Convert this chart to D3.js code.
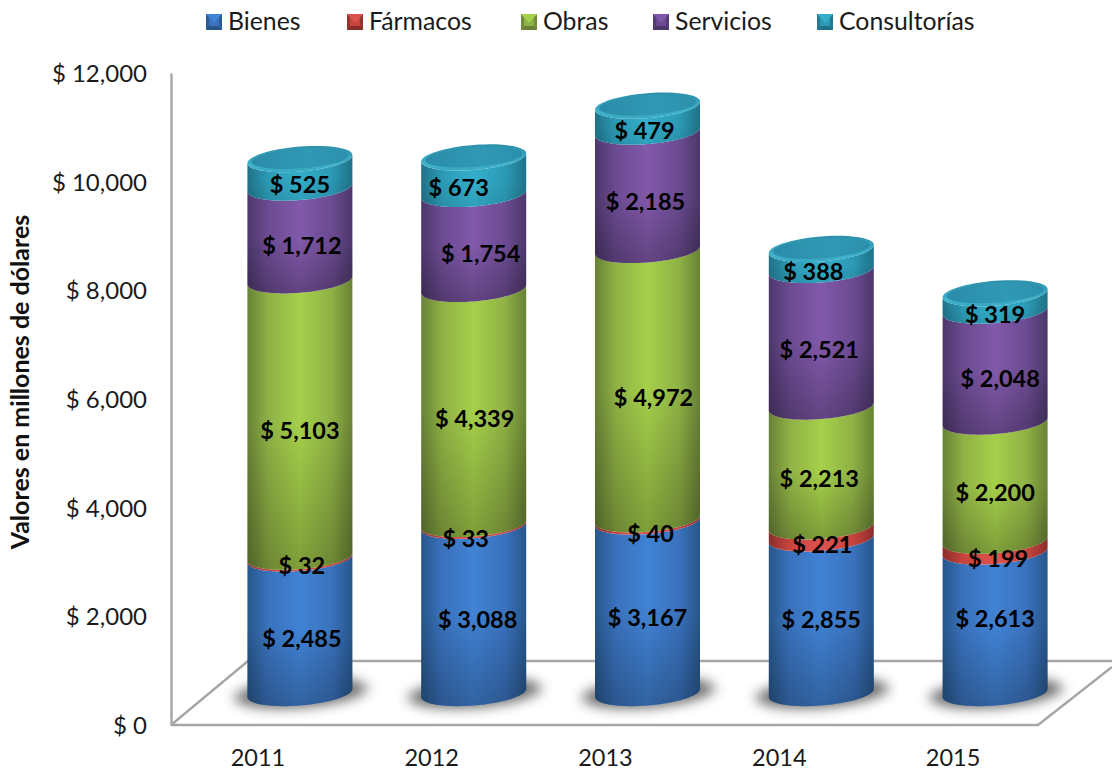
<!DOCTYPE html>
<html><head><meta charset="utf-8">
<script src="https://d3js.org/d3.v7.min.js"></script>
<style>html,body{margin:0;padding:0;background:#fff}svg{display:block}text{font-family:Lato,"Open Sans",sans-serif}</style>
</head><body><svg id="c" width="1112" height="773"></svg>
<script>
const years=["2011","2012","2013","2014","2015"];
const seriesNames=["Bienes","Fármacos","Obras","Servicios","Consultorías"];
const bienes=[2485,3088,3167,2855,2613];
const farmacos=[32,33,40,221,199];
const obras=[5103,4339,4972,2213,2200];
const servicios=[1712,1754,2185,2521,2048];
const consultorias=[525,673,479,388,319];
const yTicks=[0,2000,4000,6000,8000,10000,12000];
const seriesValues=[bienes,farmacos,obras,servicios,consultorias];
// label nudges from each segment's centre, [dx,dy] by year then series
const nudges=[
 [[2,13.5],[2,9],[0,13],[2,13],[0,13]],
 [[4,11],[-8,14],[1,13],[7,14],[-15,14]],
 [[0,11],[3,14],[6,14],[-2,13],[-3,14]],
 [[0,4.5],[1,13],[-2,13],[-2,13],[-8,14]],
 [[0,-3],[3,13],[0,12],[5,14],[0,14]]];
const palette=[
 {l:"#4082d4",m:"#3a72bd",d:"#27568a"},
 {l:"#dc524e",m:"#c9443f",d:"#8a2d2a"},
 {l:"#a5d04a",m:"#8fb145",d:"#688235"},
 {l:"#8159aa",m:"#6c4b92",d:"#4c376a"},
 {l:"#33aeca",m:"#2c9ab5",d:"#1f7288"}];

const svg=d3.select("#c");
const yAxisScale=d3.scaleLinear().domain([0,12000]).range([725,73]);
const yBar=d3.scaleLinear().domain([0,12000]).range([693,43]);
const yLabel=d3.scaleLinear().domain([0,12000]).range([693,41]);
const xFloor=d3.scaleBand().domain(years).range([171,1040]);
const xBar=d3.scaleBand().domain(years).range([213,1082]);
const rx=52.5, ry=12.5, skew=0.078;
const defs=svg.append("defs");
defs.append("filter").attr("id","blur").attr("x","-30%").attr("y","-80%").attr("width","160%").attr("height","260%")
 .append("feGaussianBlur").attr("stdDeviation",5);
palette.forEach((p,i)=>{
 const g=defs.append("linearGradient").attr("id","h"+i);
 [[0,p.d],[.2,p.m],[.5,p.l],[.8,p.m],[1,p.d]].forEach(s=>g.append("stop").attr("offset",s[0]).attr("stop-color",s[1]));
 const v=defs.append("linearGradient").attr("id","v"+i).attr("x1",0).attr("x2",0).attr("y1",0).attr("y2",1);
 v.append("stop").attr("offset",0).attr("stop-color","#fff").attr("stop-opacity",0);
 v.append("stop").attr("offset",.5).attr("stop-color","#000").attr("stop-opacity",0);
 v.append("stop").attr("offset",1).attr("stop-color","#000").attr("stop-opacity",i==1?0:i==4?.08:.24);
});
const capRim=defs.append("linearGradient").attr("id","capRim").attr("x1",0).attr("x2",0).attr("y1",0).attr("y2",1);
capRim.append("stop").attr("offset",0).attr("stop-color","#2c8fa9");
capRim.append("stop").attr("offset",.75).attr("stop-color","#3fb2cc");
capRim.append("stop").attr("offset",1).attr("stop-color","#37a6c1");
const capTop=defs.append("linearGradient").attr("id","capTop");
capTop.append("stop").attr("offset",0).attr("stop-color","#2a8ca8");
capTop.append("stop").attr("offset",.6).attr("stop-color","#3199b5");
capTop.append("stop").attr("offset",1).attr("stop-color","#2b8fab");

// floor and axis
const grey="#a6a6a6";
const floor=svg.append("g").attr("fill","none").attr("stroke",grey).attr("stroke-width",2.4);
const fl=xFloor.range();
floor.append("path").attr("d",d3.line()([[fl[0],yAxisScale(0)],[xBar.range()[0]+35,yBar(0)-32],[1112,yBar(0)-32]]));
floor.append("path").attr("d",d3.line()([[fl[0],yAxisScale(0)],[fl[1]-2,yAxisScale(0)],[1112,yBar(0)-26]]));

// y axis
const ya=svg.append("g").attr("transform","translate(171,0)").call(d3.axisLeft(yAxisScale).tickValues(yTicks).tickSize(0).tickPadding(24).tickFormat(d=>"$ "+d3.format(",")(d)));
ya.select(".domain").attr("stroke",grey).attr("stroke-width",2.4);
ya.selectAll("text").attr("font-size",24).attr("fill","#1a1a1a").attr("dy","0.36em").style("font-family","Lato");
// x axis
const xa=svg.append("g").attr("transform","translate(0,758)").call(d3.axisBottom(xFloor).tickSize(0).tickPadding(0));
xa.select(".domain").remove();
xa.selectAll("text").attr("font-size",23.5).attr("fill","#1a1a1a").attr("dy","0.32em").style("font-family","Lato");

svg.append("text").attr("transform","translate(29,382) rotate(-90)").attr("text-anchor","middle")
 .attr("font-size",25).attr("font-weight",700).attr("fill","#111").text("Valores en millones de dólares");

// legend
const legendX=[206,347,521,653,817];
seriesNames.forEach((n,i)=>{
 const g=svg.append("g").attr("transform",`translate(${legendX[i]},14)`);
 g.append("rect").attr("width",16).attr("height",16).attr("fill",palette[i].m);
 g.append("path").attr("d","M0,16H16L13,12H3Z").attr("fill",palette[i].d);
 g.append("path").attr("d","M0,0V16L3,12V3Z M16,0V16L13,12V3Z").attr("fill",palette[i].d).attr("opacity",.75);
 g.append("path").attr("d","M0,0H16L8,9Z").attr("fill",palette[i].l);
 g.append("text").attr("x",22).attr("y",15.5).attr("font-size",24.8).attr("fill","#1a1a1a").text(n);
});

function arc(cx,cy,from,to){
 return d3.range(0,61).map(k=>{const t=from+(to-from)*k/60,x=cx+rx*Math.cos(t);
  return [x,cy+ry*Math.sin(t)-skew*(x-cx)];});
}
const line=d3.line();
years.forEach((yr,yi)=>{
 const cx=xBar(yr)+xBar.bandwidth()/2, y00=yBar(0);
 // shadow
 svg.append("path").attr("d",line(arc(cx,y00,0,2*Math.PI))+"Z").attr("fill","#3c3c3c").attr("opacity",.72)
  .attr("transform",`translate(${cx+1},${y00}) scale(1.26,1.2) translate(${-cx},${-y00})`).attr("filter","url(#blur)");
 let cum=0;
 seriesValues.forEach((vals,si)=>{
  const v=vals[yi],y0=yBar(cum),y1=yBar(cum+v);
  const low=arc(cx,y0,0,Math.PI);   // right to left along the front
  const up=arc(cx,y1,Math.PI,0);    // left to right along the front
  const d=line(up.concat(low))+"Z";
  svg.append("path").attr("d",d).attr("fill",`url(#h${si})`);
  svg.append("path").attr("d",d).attr("fill",`url(#v${si})`);
  cum+=v;
 });
 const yt=yBar(cum),top=line(arc(cx,yt,0,2*Math.PI))+"Z";
 svg.append("path").attr("d",top).attr("fill","url(#capRim)");
 svg.append("path").attr("d",top).attr("fill","url(#capTop)").attr("transform",`translate(${cx},${yt-0.5}) scale(.92,.8) translate(${-cx},${-yt})`);
 // labels
 cum=0;
 seriesValues.forEach((vals,si)=>{
  const v=vals[yi],n=nudges[yi][si];
  svg.append("text").attr("x",cx+n[0]).attr("y",yLabel(cum+v/2)+n[1]).attr("text-anchor","middle").attr("dy","0.35em")
   .attr("font-size",23.5).attr("font-weight",700).attr("fill","#000").text("$ "+d3.format(",")(v));
  cum+=v;
 });
});
</script></body></html>
